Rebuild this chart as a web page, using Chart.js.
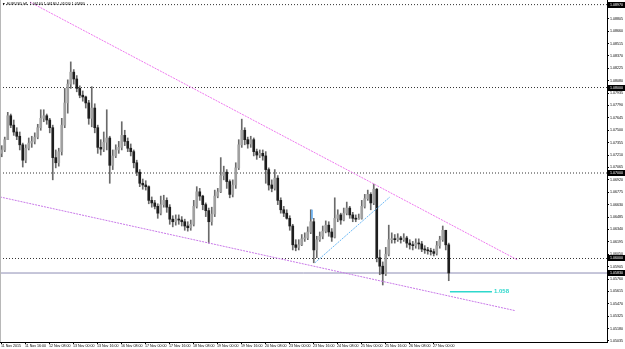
<!DOCTYPE html>
<html><head><meta charset="utf-8">
<script src="https://cdn.jsdelivr.net/npm/chart.js@4/dist/chart.umd.min.js"></script>
<style>html,body{margin:0;padding:0;background:#fff;overflow:hidden}</style>
</head><body>
<canvas id="c" width="625" height="349"></canvas>
<script>
const symbolTitle = 'EURUSD,H1';
const hoursPerCandle = 2;
const firstOpen = 1.0723;
const closes = [1.0727,1.0739,1.0767,1.0756,1.0748,1.0743,1.0733,1.0715,1.0729,1.0735,
1.0737,1.0742,1.0753,1.0764,1.0767,1.0762,1.0753,1.0718,1.0712,1.0725,
1.0756,1.0782,1.0804,1.0818,1.0810,1.0799,1.0791,1.0789,1.0782,1.0764,
1.0776,1.0753,1.0730,1.0728,1.0736,1.0741,1.0709,1.0720,1.0727,1.0730,
1.0744,1.0737,1.0729,1.0725,1.0712,1.0701,1.0688,1.0686,1.0684,1.0668,
1.0665,1.0661,1.0653,1.0663,1.0668,1.0660,1.0646,1.0643,1.0646,1.0645,
1.0643,1.0638,1.0636,1.0640,1.0661,1.0678,1.0673,1.0663,1.0656,1.0643,
1.0652,1.0673,1.0678,1.0697,1.0701,1.0690,1.0675,1.0686,1.0706,1.0733,
1.0750,1.0739,1.0734,1.0739,1.0725,1.0721,1.0723,1.0720,1.0704,1.0686,
1.0682,1.0694,1.0668,1.0657,1.0653,1.0647,1.0638,1.0616,1.0613,1.0616,
1.0623,1.0624,1.0631,1.0643,1.0610,1.0622,1.0626,1.0632,1.0639,1.0631,
1.0625,1.0647,1.0651,1.0645,1.0653,1.0659,1.0651,1.0647,1.0646,1.0647,
1.0661,1.0670,1.0675,1.0665,1.0681,1.0601,1.0591,1.0582,1.0605,1.0622,
1.0623,1.0622,1.0624,1.0622,1.0624,1.0618,1.0616,1.0615,1.0618,1.0617,
1.0611,1.0610,1.0609,1.0608,1.0606,1.0615,1.0622,1.0633,1.0616,1.0583];
const highs = [1.0732,1.0742,1.0771,1.0769,1.0762,1.0753,1.0748,1.0735,1.0733,1.0741,
1.0743,1.0747,1.0757,1.0774,1.0774,1.0769,1.0764,1.0756,1.0727,1.0729,
1.0764,1.0799,1.0809,1.0830,1.0821,1.0814,1.0802,1.0796,1.0790,1.0785,
1.0801,1.0781,1.0756,1.0739,1.0748,1.0774,1.0743,1.0727,1.0733,1.0737,
1.0760,1.0750,1.0741,1.0734,1.0727,1.0715,1.0704,1.0693,1.0691,1.0685,
1.0672,1.0668,1.0664,1.0673,1.0674,1.0671,1.0663,1.0650,1.0651,1.0651,
1.0649,1.0646,1.0643,1.0645,1.0668,1.0684,1.0682,1.0674,1.0665,1.0659,
1.0660,1.0680,1.0682,1.0718,1.0708,1.0704,1.0692,1.0692,1.0712,1.0739,
1.0763,1.0753,1.0742,1.0743,1.0741,1.0728,1.0727,1.0727,1.0725,1.0706,
1.0692,1.0704,1.0697,1.0671,1.0661,1.0657,1.0650,1.0640,1.0622,1.0622,
1.0628,1.0630,1.0637,1.0657,1.0647,1.0626,1.0631,1.0638,1.0644,1.0643,
1.0635,1.0671,1.0657,1.0653,1.0659,1.0666,1.0661,1.0654,1.0651,1.0652,
1.0668,1.0675,1.0680,1.0677,1.0687,1.0682,1.0610,1.0596,1.0613,1.0639,
1.0630,1.0628,1.0629,1.0626,1.0629,1.0626,1.0622,1.0620,1.0623,1.0623,
1.0620,1.0615,1.0613,1.0612,1.0611,1.0620,1.0626,1.0638,1.0631,1.0618];
const lows = [1.0719,1.0725,1.0739,1.0753,1.0744,1.0739,1.0727,1.0707,1.0712,1.0727,
1.0730,1.0734,1.0740,1.0750,1.0760,1.0757,1.0747,1.0692,1.0706,1.0708,
1.0721,1.0753,1.0770,1.0799,1.0804,1.0795,1.0788,1.0784,1.0776,1.0757,
1.0754,1.0747,1.0723,1.0721,1.0725,1.0727,1.0688,1.0704,1.0718,1.0723,
1.0727,1.0732,1.0725,1.0720,1.0706,1.0697,1.0684,1.0681,1.0680,1.0664,
1.0660,1.0658,1.0647,1.0651,1.0660,1.0654,1.0640,1.0637,1.0639,1.0640,
1.0638,1.0633,1.0632,1.0633,1.0638,1.0659,1.0668,1.0657,1.0649,1.0618,
1.0639,1.0649,1.0671,1.0677,1.0692,1.0682,1.0671,1.0672,1.0682,1.0704,
1.0730,1.0733,1.0729,1.0730,1.0720,1.0716,1.0718,1.0715,1.0688,1.0680,
1.0678,1.0680,1.0663,1.0653,1.0649,1.0646,1.0633,1.0610,1.0609,1.0610,
1.0615,1.0620,1.0622,1.0629,1.0595,1.0601,1.0620,1.0623,1.0630,1.0626,
1.0620,1.0624,1.0643,1.0640,1.0644,1.0651,1.0647,1.0643,1.0643,1.0646,
1.0646,1.0659,1.0668,1.0657,1.0663,1.0596,1.0581,1.0569,1.0580,1.0603,
1.0618,1.0618,1.0620,1.0618,1.0620,1.0613,1.0611,1.0610,1.0612,1.0611,
1.0608,1.0606,1.0605,1.0604,1.0603,1.0604,1.0612,1.0620,1.0610,1.0574];

const timeTickHours = [0,16,32,48,64,80,96,112,128,144,160,176,192,208,224,240,256,272,288];
const timeTickLabels = ['11 Nov 2015','11 Nov 16:00','12 Nov 08:00','13 Nov 00:00','13 Nov 16:00',
'16 Nov 08:00','17 Nov 00:00','17 Nov 16:00','18 Nov 08:00','19 Nov 00:00','19 Nov 16:00',
'20 Nov 08:00','23 Nov 00:00','23 Nov 16:00','24 Nov 08:00','25 Nov 00:00','25 Nov 16:00',
'26 Nov 08:00','27 Nov 00:00'];
const priceTicks = [1.08950,1.08805,1.08660,1.08515,1.08370,1.08225,1.08080,1.07935,1.07790,1.07645,
1.07500,1.07355,1.07210,1.07065,1.06920,1.06775,1.06630,1.06485,1.06340,1.06195,
1.06050,1.05905,1.05760,1.05615,1.05470,1.05325,1.05180,1.05035];
const priceMin = 1.05023, priceMax = 1.09024;
const hourMin = -0.67, hourMax = 404;
const levelLines = [1.0897, 1.0800, 1.0700, 1.0600];
const bidPrice = 1.0583;
const upperTrend = [{x:19.3,y:1.0900},{x:344.7,y:1.0598}];
const lowerTrend = [{x:-0.67,y:1.0672},{x:342.7,y:1.0539}];
const blueTrend = [{x:209.3,y:1.0595},{x:259.3,y:1.0672}];
const blueMark = [{x:207.3,y:1.0657},{x:207.3,y:1.0646}];
const tealSeg = [{x:299.3,y:1.0561},{x:327.3,y:1.0561}];
const tealLabel = '1.058';

const FONT = '"Liberation Sans", Arial, sans-serif';
const opens = closes.map((c,i)=> i===0 ? firstOpen : closes[i-1]);
const wickData = closes.map((c,i)=>({x:i*hoursPerCandle+0.5, y:[Math.min(lows[i],opens[i],c), Math.max(highs[i],opens[i],c)]}));
const bodyData = closes.map((c,i)=>({x:i*hoursPerCandle+0.5, y:[opens[i], c]}));
const bodyColors = closes.map((c,i)=> c>=opens[i] ? '#a0a0a0' : '#1e1e1e');
const levelData = levelLines.map(v=>[{x:hourMin,y:v},{x:hourMax,y:v}]);

const datasets = [
  {type:'bar', data:wickData, backgroundColor:'#6a6a6a', barThickness:1, grouped:false, order:3},
  {type:'bar', data:bodyData, backgroundColor:bodyColors, barThickness:2, minBarLength:1, grouped:false, order:2},
];
levelData.forEach(d=>datasets.push({type:'line', data:d, borderColor:'#333', borderWidth:1, borderDash:[1,2], pointRadius:0, order:5}));
datasets.push({type:'line', data:[{x:hourMin,y:bidPrice},{x:hourMax,y:bidPrice}], borderColor:'#8c8cb4', borderWidth:1, pointRadius:0, order:4});
datasets.push({type:'line', data:upperTrend, borderColor:'#ee78ee', borderWidth:1, borderDash:[2,1], pointRadius:0, order:1});
datasets.push({type:'line', data:lowerTrend, borderColor:'#c878e8', borderWidth:1, borderDash:[2,1], pointRadius:0, order:1});
datasets.push({type:'line', data:blueTrend, borderColor:'#6cb8f4', borderWidth:1, borderDash:[2,1], pointRadius:0, order:1});
datasets.push({type:'line', data:blueMark, borderColor:'#6cb0ee', borderWidth:1, pointRadius:0, order:1});
datasets.push({type:'line', data:tealSeg, borderColor:'#2ed8cc', borderWidth:1.5, pointRadius:0, order:1});

const overlay = {
  id:'overlay',
  afterDraw(chart){
    const {ctx, scales:{x,y}, chartArea} = chart;
    ctx.save();
    ctx.strokeStyle='#b8b8b8'; ctx.lineWidth=1;
    ctx.beginPath(); ctx.moveTo(chartArea.left+0.5, chartArea.top); ctx.lineTo(chartArea.left+0.5, chartArea.bottom); ctx.stroke();
    ctx.font = '3.6px ' + FONT;
    ctx.textBaseline='middle';
    [...levelLines, bidPrice].forEach(v=>{
      const py = y.getPixelForValue(v);
      ctx.fillStyle='#000'; ctx.fillRect(chartArea.right+1, Math.round(py)-3, 17, 6);
      ctx.fillStyle='#fff'; ctx.fillText(v.toFixed(5), chartArea.right+3, py);
    });
    const tx = x.getPixelForValue(tealSeg[1].x), ty = y.getPixelForValue(tealSeg[1].y);
    ctx.fillStyle='#2ed8cc'; ctx.font='bold 6px ' + FONT;
    ctx.fillText(tealLabel, tx+2, ty);
    const n = closes.length-1;
    const t = symbolTitle+'  '+[opens[n],highs[n],lows[n],closes[n]].map(v=>v.toFixed(5)).join(' ');
    ctx.fillStyle='#000'; ctx.font='3.6px ' + FONT;
    ctx.fillText('\u25BC', 2, 4);
    ctx.fillText(t, 7, 4);
    ctx.restore();
  }
};

new Chart(document.getElementById('c'), {
  type:'bar',
  data:{datasets},
  options:{
    responsive:false, animation:false, devicePixelRatio:1,
    layout:{padding:0},
    plugins:{legend:{display:false}, tooltip:{enabled:false}},
    scales:{
      x:{type:'linear', min:hourMin, max:hourMax, offset:false,
        afterBuildTicks(s){ s.ticks = timeTickHours.map(v=>({value:v})); },
        afterFit(s){ s.height = 7; s.paddingLeft=0; s.paddingRight=0; },
        ticks:{autoSkip:false, maxRotation:0, align:'start', padding:0, color:'#000',
          font:{size:3.6, family:FONT},
          callback:(v,i)=>timeTickLabels[i]},
        grid:{drawOnChartArea:false, tickLength:2, color:'#000', offset:false},
        border:{display:true, color:'#000'}
      },
      y:{type:'linear', position:'right', min:priceMin, max:priceMax,
        afterBuildTicks(s){ s.ticks = priceTicks.map(v=>({value:v})); },
        afterFit(s){ s.width = 18; s.paddingTop=0; s.paddingBottom=0; },
        ticks:{autoSkip:false, padding:1, color:'#000', font:{size:3.6, family:FONT},
          callback:v=>Number(v).toFixed(5)},
        grid:{drawOnChartArea:false, tickLength:2, color:'#000'},
        border:{display:true, color:'#000'}
      }
    }
  },
  plugins:[overlay]
});
</script>
</body></html>
